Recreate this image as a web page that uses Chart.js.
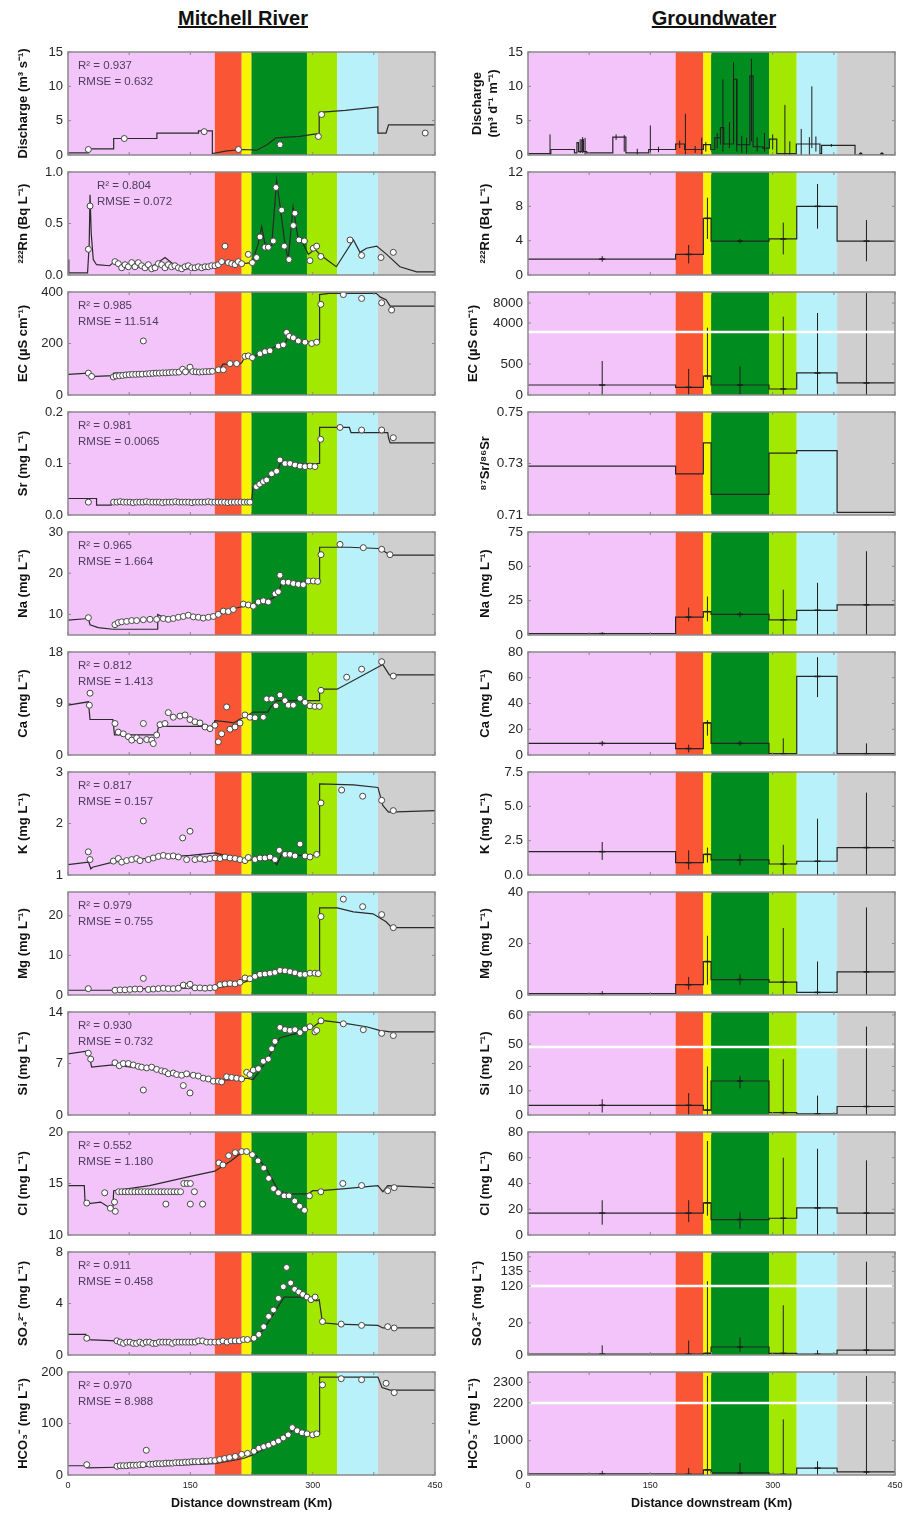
<!DOCTYPE html>
<html>
<head>
<meta charset="utf-8">
<script src="https://cdn.jsdelivr.net/npm/chart.js@4.4.1/dist/chart.umd.min.js"></script>
<style>
  body { margin: 0; background: #fff; width: 906px; height: 1517px; position: relative; overflow: hidden;
         font-family: "Liberation Sans", Arial, sans-serif; }
  .head { position: absolute; top: 7px; font-weight: bold; font-size: 20px; text-decoration: underline;
          color: #111; transform: translateX(-50%); white-space: nowrap; }
  canvas { position: absolute; }
</style>
</head>
<body>
<div class="head" style="left:243px">Mitchell River</div>
<div class="head" style="left:714px">Groundwater</div>
<script>
// ---------- reach zones along the river (km) ----------
const riverZoneEdges = [0, 180, 213, 225, 293, 330, 380, 450];
const gwZoneEdges = [0, 181, 215, 224.5, 295.5, 329.5, 379, 450];
const zoneColors = ['#f2c4f9', '#fa5535', '#f7f500', '#008c1e', '#a3e800', '#b8f1fa', '#cfcfcf'];
const xTickKm = [0, 75, 150, 225, 300, 375, 450];
const xLabelKm = [0, 150, 300, 450];

// ---------- Mitchell River: modelled profile [km, value] and observations [km, value] ----------
const dischargeModel = [[0,0.3],[25,0.3],[25,0.9],[56,0.9],[56,2.4],[109,2.4],[109,3.2],[160,3.2],[160,3.5],[177,3.5],[177,0.2],[195,0.6],[215,0.8],[231,0.7],[244,1.5],[255,2.5],[284,2.7],[300,3.0],[308,3.1],[308,6.2],[340,6.5],[380,7.0],[380,3.2],[390,3.2],[393,4.4],[450,4.4]];
const dischargeObs = [[25,0.8],[69,2.4],[167,3.4],[209,0.8],[260,1.5],[307,2.7],[311,5.9],[438,3.2]];

const rnModel = [[0,0.15],[1,0.02],[24,0.02],[26,0.3],[27,0.78],[28.5,0.4],[31,0.15],[35,0.1],[51,0.09],[57,0.13],[65,0.1],[80,0.08],[100,0.07],[110,0.12],[119,0.17],[130,0.1],[145,0.06],[162,0.07],[180,0.08],[195,0.13],[205,0.1],[215,0.11],[225,0.12],[229,0.2],[233,0.3],[237.5,0.47],[241.5,0.3],[249.7,0.28],[255.8,0.92],[262,0.55],[266,0.3],[270,0.15],[276,0.66],[282,0.36],[288.5,0.3],[294.7,0.2],[302.8,0.25],[309,0.2],[317,0.15],[329,0.08],[350,0.34],[358,0.22],[366,0.26],[378.5,0.28],[390.7,0.2],[407,0.08],[427.5,0.03],[450,0.03]];
const rnObs = [[25,0.25],[27,0.67],[57.6,0.13],[61.7,0.11],[65.8,0.07],[69.9,0.1],[74,0.08],[78.1,0.12],[82.1,0.08],[86.2,0.12],[90.3,0.09],[94.4,0.07],[98.5,0.1],[102.6,0.06],[106.7,0.07],[110.8,0.11],[114.8,0.1],[118.9,0.07],[123,0.1],[127,0.08],[131,0.09],[135.3,0.07],[139.4,0.06],[143.5,0.08],[147.5,0.09],[151.6,0.07],[155.7,0.07],[159.8,0.08],[163.9,0.07],[168,0.08],[172.1,0.08],[176.1,0.09],[180.2,0.09],[184.3,0.1],[188.4,0.13],[192.5,0.28],[196.6,0.12],[200.7,0.11],[204.8,0.1],[208.8,0.13],[212.9,0.11],[221.1,0.2],[226,0.12],[231.3,0.17],[235.4,0.37],[241.5,0.27],[245.6,0.27],[251.8,0.33],[255,0.85],[262,0.63],[265.2,0.28],[271,0.15],[276.3,0.48],[278.3,0.6],[283.2,0.34],[289.8,0.33],[296.7,0.14],[300.8,0.26],[304.9,0.28],[310,0.18],[345.8,0.34],[360,0.19],[383.8,0.17],[398.9,0.22]];

const ecModel = [[0,80],[25,85],[27,71],[55,75],[56,85],[100,88],[150,90],[180,92],[186,100],[190,120],[210,120],[213,125],[217,150],[225,145],[235,160],[246,175],[256,190],[266,195],[268,215],[272,238],[276,222],[284,210],[297,205],[308,205],[308.5,390],[320,395],[378,395],[383,380],[390,370],[395,345],[450,345]];
const ecObs = [[25,85],[29,72],[55.6,70],[59,74],[63,75],[67,76],[71,78],[75,79],[79,80],[83,80],[87,81],[91,81],[92.4,210],[96,82],[100,83],[104,84],[108,85],[112,85],[116,86],[120,86],[124,87],[128,88],[132,88],[136,89],[140.6,100],[144,90],[149.6,108],[153,91],[157,90],[161,89],[165,90],[169,91],[173,91],[177,92],[184.3,98],[190.5,98],[198.6,122],[206.8,122],[217,150],[221.1,152],[226,145],[235.4,160],[241.5,168],[247.7,172],[257.9,190],[264,195],[268.1,243],[271.4,228],[276.3,222],[282.4,210],[290.6,205],[298.8,200],[304.9,205],[310,352],[337.6,390],[360,375],[384.6,358],[396.8,330]];

const srModel = [[0,0.032],[35,0.032],[35,0.019],[53,0.019],[53,0.025],[225,0.025],[227,0.055],[240,0.068],[252,0.08],[258,0.09],[262,0.108],[268,0.1],[308,0.1],[308.5,0.17],[345,0.17],[347,0.16],[392,0.16],[393,0.15],[395,0.14],[450,0.14]];
const srObs = [[25,0.025],[56,0.025],[60,0.025],[64,0.026],[68,0.025],[72,0.025],[76,0.025],[80,0.024],[84,0.025],[88,0.025],[92,0.025],[96,0.026],[100,0.025],[104,0.025],[108,0.025],[112,0.025],[116,0.024],[120,0.025],[124,0.025],[128,0.025],[132,0.026],[136,0.025],[140,0.025],[144,0.025],[148,0.025],[152,0.024],[156,0.025],[160,0.025],[164,0.025],[168,0.025],[172,0.026],[176,0.025],[180,0.025],[184,0.025],[188,0.025],[192,0.025],[196,0.024],[200,0.025],[204,0.025],[208,0.025],[212,0.025],[216,0.025],[220,0.025],[223,0.025],[231,0.055],[235,0.06],[239.5,0.065],[243.6,0.068],[249.7,0.08],[255.8,0.085],[259.9,0.107],[266.1,0.1],[272.2,0.1],[278.3,0.097],[284.5,0.095],[290.6,0.094],[296.7,0.095],[302.8,0.094],[309.8,0.147],[333.5,0.17],[360,0.165],[384.6,0.165],[398.9,0.15]];

const naModel = [[0,8.6],[25,9],[27,7.5],[37,6.8],[55,6.4],[110,6.4],[110,10],[115,9.5],[130,9.2],[150,9.3],[180,9.6],[186,10],[195,11],[212,11.8],[225,12.2],[240,13],[252,14],[258,15],[262,17.9],[280,17.9],[300,17.8],[308,17.9],[308.5,26.3],[345,26.3],[380,26],[386,25.5],[395,24.4],[450,24.4]];
const naObs = [[25,9.2],[57.6,7.5],[61.7,8],[65.8,8.2],[71.9,8.3],[78.1,8.5],[84.2,8.5],[92.4,8.7],[100.5,8.8],[108.7,8.8],[116.9,9],[123,8.8],[129.1,9],[135.3,9.3],[141.4,9.5],[147.5,9.8],[153.7,9.4],[159.8,9.3],[165.9,9.1],[172.1,9.3],[178.2,9.5],[184.3,10],[190.5,10.8],[196.6,10.7],[202.7,11.2],[215,12.5],[221.1,12.3],[227.2,12],[233.4,13],[239.5,13.3],[245.6,13],[253.8,15],[257.9,15.5],[259.9,19.5],[264,17.8],[270.1,17.8],[276.3,17.5],[282.4,17.3],[288.5,17.2],[294.7,18.1],[300.8,18.1],[306.1,18],[310.2,24.5],[333.5,27],[362.1,26.2],[384.6,25.8],[394.8,24.5]];

const caModel = [[0,8.7],[25,9.3],[27,6.2],[55,6.2],[57,3.5],[109,3.5],[111,5],[178,5],[180,6],[195,5.8],[203,5.6],[211,6.3],[215,6.5],[227,7.5],[245,7.5],[248,8.3],[256,9.5],[308,9.5],[308.5,11.5],[330,11.5],[386,15.8],[394,14],[450,14]];
const caObs = [[26.2,8.7],[27,10.8],[57.6,5.5],[61.7,4],[67.8,3.7],[74,3.2],[78.1,2.6],[84.2,3],[88.3,2.5],[92.4,5.5],[96.5,2.7],[102.6,2.6],[104.6,2],[108.7,3.5],[112.8,5.3],[118.9,5.5],[123,7.4],[129.1,6.6],[137.3,6.8],[143.5,7],[149.6,6.2],[155.7,5.8],[161.8,5.6],[168,4.9],[174.1,4.6],[180.2,5.2],[184.3,2.3],[188.4,3.7],[194.5,8.4],[198.6,4.5],[204.8,4.9],[210.9,5.6],[217,7],[223.1,6.6],[229.3,6.5],[239.5,6.6],[243.6,9.8],[249.7,9.8],[255,8.6],[259.9,10.5],[266.1,9.5],[270.1,8.7],[276.3,8.7],[284.5,9.9],[290.6,9.2],[296.7,8.6],[302.8,8.5],[308.2,8.5],[310.2,11.3],[341.7,13.6],[360,15],[384.6,16.3],[398.9,13.8]];

const kModel = [[0,1.2],[25,1.25],[28,1.12],[30,1.15],[55,1.25],[100,1.33],[150,1.38],[180,1.43],[195,1.37],[203,1.35],[219,1.27],[231,1.32],[243,1.33],[252,1.27],[256,1.2],[262,1.4],[280,1.38],[308,1.38],[308.5,2.77],[350,2.75],[380,2.7],[386,2.35],[393,2.22],[450,2.25]];
const kObs = [[24.9,1.45],[27,1.3],[55.6,1.27],[61.7,1.32],[65.8,1.25],[71.9,1.28],[78.1,1.3],[84.2,1.32],[88.3,1.28],[92.4,2.05],[98.5,1.3],[104.6,1.33],[110.8,1.36],[116.9,1.38],[123,1.36],[129.1,1.37],[135.3,1.35],[140.6,1.72],[145.5,1.3],[149.6,1.85],[155.7,1.3],[161.8,1.32],[168,1.3],[174.1,1.32],[180.2,1.33],[186.4,1.32],[192.5,1.35],[198.6,1.33],[204.8,1.32],[210.9,1.3],[217,1.28],[221.1,1.34],[229.3,1.3],[235.4,1.33],[241.5,1.33],[247.7,1.35],[253.8,1.3],[259.1,1.48],[266.1,1.4],[272.2,1.4],[278.3,1.37],[284.5,1.6],[290.6,1.37],[296.7,1.35],[304.9,1.4],[310.2,2.4],[335.5,2.65],[361.3,2.53],[384.6,2.45],[398.9,2.25]];

const mgModel = [[0,1.2],[55,1.2],[56,1.5],[100,1.6],[150,1.7],[180,1.8],[203,2.5],[213,3],[227,4],[243,5],[260,5.5],[272,6],[284,5.3],[308,5],[308.5,22],[330,22],[350,21],[374,20.5],[390,18.5],[397,17],[450,17]];
const mgObs = [[24.9,1.6],[57.6,1.2],[63.8,1.3],[69.9,1.3],[76,1.4],[82.1,1.5],[88.3,1.5],[92.4,4.2],[98.5,1.4],[104.6,1.5],[110.8,1.6],[116.9,1.7],[123,1.6],[129.1,1.6],[135.3,1.7],[141.4,2.5],[147.5,2.3],[149.6,2.7],[155.7,1.8],[161.8,1.8],[168,1.7],[174.1,1.8],[180.2,1.9],[186.4,2.6],[192.5,2.8],[198.6,2.9],[204.8,2.8],[210.9,3.2],[217,4.3],[223.1,4.1],[229.3,4.7],[235.4,5.2],[241.5,5.3],[247.7,5.5],[253.8,5.7],[259.9,6.2],[266.1,6.1],[272.2,5.9],[278.3,5.6],[284.5,5.2],[290.6,5.2],[296.7,5.5],[302.8,5.5],[306.9,5.4],[310.2,19.8],[337.6,24.2],[361.3,22.3],[384.6,20.3],[398.9,17]];

const siModel = [[0,8.3],[25,8.7],[29,6.5],[55,6.8],[100,6.2],[150,5.3],[180,4.7],[203,4.8],[219,5],[227,4.8],[235,6],[244,7.5],[252,9],[260,10.5],[284,11.2],[301,12],[307,12.5],[309,12.9],[338,12.5],[366,12],[382,11.5],[395,11.3],[450,11.3]];
const siObs = [[24.9,8.4],[27.8,7.6],[57.6,7.1],[62.9,6.7],[67.8,7],[74,7],[80.1,6.8],[86.2,6.6],[90.3,6.5],[92.4,3.4],[96.5,6.4],[102.6,6.5],[108.7,6.2],[114.8,6.0],[118.9,5.9],[123,5.6],[129.1,5.7],[133.2,5.5],[139.4,5.4],[141.4,4],[145.5,5.6],[149.6,3],[153.7,5.4],[159.8,5.3],[165.9,5],[172.1,4.9],[178.2,4.6],[184.3,4.6],[188.4,4.5],[194.5,5.2],[200.7,5.1],[206.8,5],[212.9,4.9],[219.1,5.8],[223.1,5.5],[227.2,6.1],[233.4,6.3],[239.5,7.3],[245.6,7.6],[249.7,9],[253.8,10],[259.9,11.9],[266.1,11.6],[272.2,11.5],[278.3,11.6],[284.5,11.2],[290.6,11.7],[296.7,12],[302.8,11.3],[304.9,11.5],[310.2,12.8],[337.6,12.4],[362.1,11.6],[384.6,11.1],[398.9,10.8]];

const clModel = [[0,14.8],[20,14.8],[21,13],[40,13.2],[50,12.7],[55,12.6],[56,14.3],[100,14.8],[150,15.7],[180,16.2],[200,17.2],[213,18],[225,18],[232,17.6],[245,16.2],[258,14.3],[270,14],[295,14],[300,14.3],[310,14.3],[340,14.5],[380,14.8],[386,14.2],[392,14.8],[450,14.6]];
const clObs = [[23,13.1],[45,14.1],[52,12.6],[57,13.2],[58,12.3],[62,14.2],[66,14.2],[70,14.2],[74,14.2],[78,14.2],[82,14.2],[86,14.2],[90,14.2],[94,14.2],[98,14.2],[102,14.2],[106,14.2],[110,14.2],[114,14.2],[118,14.2],[120,13],[122,14.2],[126,14.2],[130,14.2],[134,14.2],[138,14.2],[142,15],[146,15],[150,15],[150,13],[155,14.2],[165,13],[185,17],[190,16.8],[197,17.7],[205,18],[213,18.1],[219,18.1],[226,17.8],[233,17.2],[240,16.5],[246,15.5],[252,14.5],[258,14.1],[265,13.8],[271,13.8],[278,13.3],[284,12.8],[290,12.4],[296,13.8],[310,14.2],[337,15],[360,14.8],[392,14.3],[400,14.6]];

const so4Model = [[0,1.6],[22,1.6],[23,1.2],[60,1.1],[150,1.0],[200,1.0],[225,1.1],[240,2],[250,3],[258,3.8],[265,4.5],[285,4.5],[305,4.2],[308,4.3],[312,2.5],[330,2.4],[380,2.3],[386,2.1],[450,2.1]];
const so4Obs = [[23,1.3],[60,1.1],[64,1.0],[68,0.9],[72,1.0],[76,1.0],[80,0.9],[84,0.9],[88,1.0],[92,0.9],[96,1.0],[100,1.0],[104,0.9],[108,0.9],[112,1.0],[116,1.0],[120,1.0],[124,1.0],[128,0.9],[132,1.0],[136,1.0],[140,1.0],[144,1.0],[148,1.0],[152,1.0],[156,1.0],[160,1.1],[165,1.1],[170,1.0],[175,1.0],[180,1.0],[185,1.0],[190,1.1],[195,1.0],[200,1.1],[205,1.1],[210,1.1],[215,1.2],[220,1.2],[228,1.3],[234,1.6],[240,2.2],[246,3],[252,3.5],[258,4.4],[264,5.3],[268,6.8],[273,5.6],[278,5.1],[283,4.9],[288,4.7],[293,4.5],[298,4.3],[303,4.5],[312,2.6],[335,2.4],[360,2.3],[392,2.2],[400,2.1]];

const hco3Model = [[0,18],[22,18],[23,14],[60,15],[110,17],[150,20],[180,22],[200,28],[215,32],[225,38],[240,50],[255,62],[270,78],[276,88],[285,80],[308,80],[308.5,190],[380,190],[385,170],[395,165],[450,165]];
const hco3Obs = [[23,20],[60,17],[64,18],[68,18],[72,18],[76,19],[80,19],[84,19],[88,20],[92,20],[96,48],[100,21],[104,21],[108,22],[112,22],[116,22],[120,23],[124,23],[128,23],[132,24],[136,24],[140,24],[144,25],[148,25],[152,26],[156,26],[160,26],[165,27],[170,27],[175,28],[180,28],[186,30],[192,32],[198,34],[205,36],[213,40],[220,42],[228,46],[234,52],[240,55],[246,58],[252,62],[258,66],[264,72],[270,78],[275,92],[281,86],[287,82],[293,80],[300,78],[305,80],[312,175],[335,187],[360,185],[390,178],[400,160]];

// ---------- Groundwater: zone means, error bars ----------
const gwBarKm = [91, 197, 220, 260, 313, 355, 415];

const gwQStep = [[0,0.2],[28,0.8],[57,0.3],[60,1.8],[62,0.5],[66,2.2],[68,0.5],[72,0.3],[104,2.6],[120,0.3],[148,0.8],[181,1.6],[192,0.8],[215,1.5],[224,0.8],[229,2.5],[236,4.0],[240,1.6],[252,11],[256,1.5],[272,11.5],[276,1.2],[288,1.0],[296,2.3],[305,0.2],[329,1.6],[358,0.2],[360,1.4],[401,0],[450,0]];
const gwQBars = [[27,0,3.0],[64,0.3,2.3],[67,0.3,2.6],[70,0,2.5],[108,2.2,3.0],[118,0.5,2.9],[134,0,0.9],[150,0.3,4.3],[160,0.4,1.2],[186,1,2.1],[193,0,6.0],[205,0.3,1.3],[213,0,2.5],[218,0.5,1.9],[232,1,3.2],[236,1.5,4],[239,0.5,11],[247,1,4.8],[252,2,13.5],[256,0.5,11],[262,0.3,2.8],[268,0.2,2.5],[274,2,14],[281,0.5,2.6],[290,0.5,3.2],[300,0.8,3],[315,0,7.3],[321,0,2],[335,0,3.8],[345,0,2.6],[348,1,10],[353,0.5,2.7],[372,1.2,1.6]];
const gwQDots = [[408,0.1],[434,0.1]];

const gwRnMean = [1.86, 2.4, 6.6, 3.95, 4.2, 8.0, 3.95];
const gwRnLow  = [1.55, 1.35, 4.2, 3.7, 2.4, 5.4, 1.6];
const gwRnHigh = [2.2, 3.5, 9.0, 4.2, 6.1, 10.6, 6.4];

const gwEcMean = [161, 124, 306, 161, 97, 355, 194];
const gwEcLow  = [0, 0, 250, 0, 0, 0, 0];
const gwEcHigh = [548, 420, 3060, 460, 5260, 6000, 10000];

const gwSrMean = [0.729, 0.726, 0.738, 0.718, 0.734, 0.735, 0.711];

const gwNaMean = [1, 13, 17, 15, 11, 18, 22];
const gwNaLow  = [0, 10, 10, 13, 0, 0, 0];
const gwNaHigh = [2, 20, 28, 17, 33, 38, 61];

const gwCaMean = [9, 5, 25, 9, 1, 61, 1];
const gwCaLow  = [7, 2, 15, 7, 0, 45, 0];
const gwCaHigh = [11, 8, 27, 11, 13, 76, 9];

const gwKMean = [1.7, 0.9, 1.5, 1.1, 0.8, 1.0, 2.0];
const gwKLow  = [1.1, 0.4, 0.9, 0.7, 0, 0, 0];
const gwKHigh = [2.4, 1.8, 2.0, 1.5, 2.2, 4.1, 6.0];

const gwMgMean = [0.5, 4, 13, 6, 5, 1, 9];
const gwMgLow  = [0, 2, 4, 4, 0, 0, 0];
const gwMgHigh = [1.5, 7, 23, 8, 26, 13, 34];

const gwSiMean = [4, 4, 2, 14, 1, 0.5, 3.5];
const gwSiLow  = [1, 0, 0, 11, 0, 0, 0];
const gwSiHigh = [6.5, 9, 20, 16, 23, 8, 56];

const gwClMean = [17, 17, 25, 12, 13, 21, 17];
const gwClLow  = [8, 10, 15, 5, 0, 0, 0];
const gwClHigh = [27, 27, 73, 18, 60, 67, 58];

const gwSo4Mean = [0.5, 0.5, 1, 5, 1, 0.5, 3];
const gwSo4Low  = [0, 0, 0, 2, 0, 0, 0];
const gwSo4High = [6, 9, 125, 11, 31, 3, 145];

const gwHco3Mean = [30, 20, 150, 60, 20, 200, 90];
const gwHco3Low  = [0, 0, 0, 0, 0, 0, 0];
const gwHco3High = [120, 200, 2330, 350, 1620, 400, 2330];

// broken axes: lower segment 0..lowMax fills the bottom `split` of the axis, the rest runs highMin..highMax
const ecBreak   = { lowMax: 1016, highMin: 2200, highMax: 10200, split: 0.612 };
const siBreak   = { lowMax: 28,   highMin: 49,   highMax: 61,    split: 0.66 };
const so4Break  = { lowMax: 43,   highMin: 120,  highMax: 155,   split: 0.67 };
const hco3Break = { lowMax: 2100, highMin: 2200, highMax: 2350,  split: 0.70 };

// ---------- panel definitions ----------
const riverPanels = [
  { title: 'Discharge (m³ s⁻¹)', min: 0, max: 15, tickVals: [0,5,10,15], tickLabels: ['0','5','10','15'], model: dischargeModel, obs: dischargeObs, fit: ['0.937','0.632'] },
  { title: '²²²Rn (Bq L⁻¹)', min: 0, max: 1, tickVals: [0,0.5,1], tickLabels: ['0.0','0.5','1.0'], model: rnModel, obs: rnObs, fit: ['0.804','0.072'], fitDx: 29 },
  { title: 'EC (µS cm⁻¹)', min: 0, max: 400, tickVals: [0,200,400], tickLabels: ['0','200','400'], model: ecModel, obs: ecObs, fit: ['0.985','11.514'] },
  { title: 'Sr (mg L⁻¹)', min: 0, max: 0.2, tickVals: [0,0.1,0.2], tickLabels: ['0.0','0.1','0.2'], model: srModel, obs: srObs, fit: ['0.981','0.0065'] },
  { title: 'Na (mg L⁻¹)', min: 5, max: 30, tickVals: [10,20,30], tickLabels: ['10','20','30'], model: naModel, obs: naObs, fit: ['0.965','1.664'] },
  { title: 'Ca (mg L⁻¹)', min: 0, max: 18, tickVals: [0,9,18], tickLabels: ['0','9','18'], model: caModel, obs: caObs, fit: ['0.812','1.413'] },
  { title: 'K (mg L⁻¹)', min: 1, max: 3, tickVals: [1,2,3], tickLabels: ['1','2','3'], model: kModel, obs: kObs, fit: ['0.817','0.157'] },
  { title: 'Mg (mg L⁻¹)', min: 0, max: 26, tickVals: [0,10,20], tickLabels: ['0','10','20'], model: mgModel, obs: mgObs, fit: ['0.979','0.755'] },
  { title: 'Si (mg L⁻¹)', min: 0, max: 14, tickVals: [0,7,14], tickLabels: ['0','7','14'], model: siModel, obs: siObs, fit: ['0.930','0.732'] },
  { title: 'Cl (mg L⁻¹)', min: 10, max: 20, tickVals: [10,15,20], tickLabels: ['10','15','20'], model: clModel, obs: clObs, fit: ['0.552','1.180'] },
  { title: 'SO₄²⁻ (mg L⁻¹)', min: 0, max: 8, tickVals: [0,4,8], tickLabels: ['0','4','8'], model: so4Model, obs: so4Obs, fit: ['0.911','0.458'] },
  { title: 'HCO₃⁻ (mg L⁻¹)', min: 0, max: 200, tickVals: [0,100,200], tickLabels: ['0','100','200'], model: hco3Model, obs: hco3Obs, fit: ['0.970','8.988'] }
];

const gwPanels = [
  { title: ['Discharge', '(m³ d⁻¹ m⁻¹)'], min: 0, max: 15, tickVals: [0,5,10,15], tickLabels: ['0','5','10','15'], step: gwQStep, bars: gwQBars, dots: gwQDots, pad: 20 },
  { title: '²²²Rn (Bq L⁻¹)', min: 0, max: 12, tickVals: [0,4,8,12], tickLabels: ['0','4','8','12'], mean: gwRnMean, low: gwRnLow, high: gwRnHigh },
  { title: 'EC (µS cm⁻¹)', brk: ecBreak, tickVals: [0,500,4000,8000], tickLabels: ['0','500','4000','8000'], mean: gwEcMean, low: gwEcLow, high: gwEcHigh, pad: 16 },
  { title: '⁸⁷Sr/⁸⁶Sr', min: 0.71, max: 0.75, tickVals: [0.71,0.73,0.75], tickLabels: ['0.71','0.73','0.75'], mean: gwSrMean },
  { title: 'Na (mg L⁻¹)', min: 0, max: 75, tickVals: [0,25,50,75], tickLabels: ['0','25','50','75'], mean: gwNaMean, low: gwNaLow, high: gwNaHigh },
  { title: 'Ca (mg L⁻¹)', min: 0, max: 80, tickVals: [0,20,40,60,80], tickLabels: ['0','20','40','60','80'], mean: gwCaMean, low: gwCaLow, high: gwCaHigh },
  { title: 'K (mg L⁻¹)', min: 0, max: 7.5, tickVals: [0,2.5,5,7.5], tickLabels: ['0.0','2.5','5.0','7.5'], mean: gwKMean, low: gwKLow, high: gwKHigh },
  { title: 'Mg (mg L⁻¹)', min: 0, max: 40, tickVals: [0,20,40], tickLabels: ['0','20','40'], mean: gwMgMean, low: gwMgLow, high: gwMgHigh },
  { title: 'Si (mg L⁻¹)', brk: siBreak, tickVals: [0,10,20,50,60], tickLabels: ['0','10','20','50','60'], mean: gwSiMean, low: gwSiLow, high: gwSiHigh },
  { title: 'Cl (mg L⁻¹)', min: 0, max: 80, tickVals: [0,20,40,60,80], tickLabels: ['0','20','40','60','80'], mean: gwClMean, low: gwClLow, high: gwClHigh },
  { title: 'SO₄²⁻ (mg L⁻¹)', brk: so4Break, tickVals: [0,20,120,135,150], tickLabels: ['0','20','120','135','150'], mean: gwSo4Mean, low: gwSo4Low, high: gwSo4High, pad: 20 },
  { title: 'HCO₃⁻ (mg L⁻¹)', brk: hco3Break, tickVals: [0,1000,2200,2300], tickLabels: ['0','1000','2200','2300'], mean: gwHco3Mean, low: gwHco3Low, high: gwHco3High, pad: 16 }
];

// ---------- layout ----------
const FONT = '"Liberation Sans", Arial, sans-serif';
Chart.defaults.font.family = FONT;
const ROW_TOP0 = 52, ROW_PITCH = 120, PLOT_H = 103, PAD_TOP = 8, PAD_BOTTOM = 6;
const SIDES = {
  river: { left: 0, width: 445, axisW: 68, padRight: 10, titlePad: 16, tickSize: 13, edges: riverZoneEdges },
  gw:    { left: 450, width: 456, axisW: 78, padRight: 11, titlePad: 28, tickSize: 13.5, edges: gwZoneEdges }
};

function axisMap(brk) {
  if (!brk) return v => v;
  return v => v <= brk.lowMax
    ? v / brk.lowMax * brk.split
    : brk.split + (v - brk.highMin) / (brk.highMax - brk.highMin) * (1 - brk.split);
}

const pts = (pairs, map) => pairs.map(([x, y]) => ({ x, y: map(y) }));

// zone backgrounds behind the data
const zonePlugin = {
  id: 'zones',
  beforeDatasetsDraw(chart, args, opts) {
    const { ctx, chartArea: a, scales: { x } } = chart;
    const edges = opts.edges;
    ctx.save();
    for (let i = 0; i < edges.length - 1; i++) {
      const x0 = x.getPixelForValue(edges[i]);
      const x1 = x.getPixelForValue(edges[i + 1]);
      ctx.fillStyle = zoneColors[i];
      ctx.fillRect(x0, a.top, x1 - x0, a.bottom - a.top);
    }
    ctx.restore();
  }
};

// frame, inward tick marks, axis-break line and fit statistics
const framePlugin = {
  id: 'frame',
  afterDatasetsDraw(chart, args, opts) {
    const { ctx, chartArea: a, scales: { x, y } } = chart;
    ctx.save();
    if (opts.breakAt != null) {
      const yb = y.getPixelForValue(opts.breakAt);
      ctx.strokeStyle = '#ffffff';
      ctx.lineWidth = 2.5;
      ctx.beginPath(); ctx.moveTo(a.left - 3, yb); ctx.lineTo(a.right + 6, yb); ctx.stroke();
    }
    ctx.strokeStyle = '#8a8a8a';
    ctx.lineWidth = 1.5;
    ctx.strokeRect(a.left, a.top, a.right - a.left, a.bottom - a.top);
    ctx.lineWidth = 1;
    ctx.beginPath();
    xTickKm.forEach(v => {
      const px = x.getPixelForValue(v);
      ctx.moveTo(px, a.top); ctx.lineTo(px, a.top + 3);
      ctx.moveTo(px, a.bottom); ctx.lineTo(px, a.bottom - 3);
    });
    y.ticks.forEach(t => {
      const py = y.getPixelForValue(t.value);
      ctx.moveTo(a.left, py); ctx.lineTo(a.left + 3, py);
      ctx.moveTo(a.right, py); ctx.lineTo(a.right - 3, py);
    });
    ctx.stroke();
    if (opts.fit) {
      ctx.fillStyle = '#4d3d5a';
      ctx.font = '11.5px ' + FONT;
      ctx.textBaseline = 'alphabetic';
      const fx = a.left + (opts.fitDx || 10);
      ctx.fillText('R² = ' + opts.fit[0], fx, a.top + 17);
      ctx.fillText('RMSE = ' + opts.fit[1], fx, a.top + 33);
    }
    ctx.restore();
  }
};

function makeChart(sideKey, row, spec, datasets) {
  const S = SIDES[sideKey];
  const isBottom = row === 11;
  const top = ROW_TOP0 + row * ROW_PITCH - PAD_TOP;
  const height = isBottom ? 1517 - top : PAD_TOP + PLOT_H + PAD_BOTTOM;
  const canvas = document.createElement('canvas');
  canvas.width = S.width; canvas.height = height;
  canvas.style.left = S.left + 'px'; canvas.style.top = top + 'px';
  canvas.style.width = S.width + 'px'; canvas.style.height = height + 'px';
  document.body.appendChild(canvas);
  const map = axisMap(spec.brk);
  const yMin = spec.brk ? 0 : spec.min, yMax = spec.brk ? 1 : spec.max;
  new Chart(canvas, {
    type: 'line',
    data: { datasets },
    plugins: [zonePlugin, framePlugin],
    options: {
      responsive: false, animation: false, devicePixelRatio: 1,
      layout: { padding: { top: PAD_TOP, right: S.padRight, bottom: isBottom ? 4 : PAD_BOTTOM, left: 0 } },
      plugins: {
        legend: { display: false }, tooltip: { enabled: false },
        zones: { edges: S.edges },
        frame: { fit: spec.fit, fitDx: spec.fitDx, breakAt: spec.brk ? spec.brk.split : null }
      },
      scales: {
        x: {
          type: 'linear', min: 0, max: 450,
          grid: { display: false, drawTicks: false }, border: { display: false },
          afterBuildTicks: s => { s.ticks = xTickKm.map(v => ({ value: v })); },
          ticks: { display: isBottom, autoSkip: false, maxRotation: 0, padding: 5, color: '#222',
                   font: { size: 9 }, callback: v => xLabelKm.includes(v) ? String(v) : '' },
          title: { display: isBottom, text: 'Distance downstream (Km)', color: '#111',
                   font: { size: 12.5, weight: 'bold' }, padding: { top: 0, bottom: 2 } },
          afterFit: s => { s.height = isBottom ? 38 : 0; s.paddingLeft = 0; s.paddingRight = 0; }
        },
        y: {
          type: 'linear', min: yMin, max: yMax,
          grid: { display: false, drawTicks: false }, border: { display: false },
          afterBuildTicks: s => { s.ticks = spec.tickVals.map(v => ({ value: map(v) })); },
          ticks: { autoSkip: false, padding: 5, color: '#262626', font: { size: S.tickSize },
                   callback: (v, i) => spec.tickLabels[i] },
          title: { display: true, text: spec.title, color: '#111', font: { size: 13, weight: 'bold' },
                   padding: { top: spec.pad != null ? spec.pad : S.titlePad, bottom: 0 } },
          afterFit: s => { s.width = S.axisW; s.paddingTop = 0; s.paddingBottom = 0; }
        }
      }
    }
  });
}

// Mitchell River column: observations (open circles) over the modelled profile
riverPanels.forEach((p, row) => {
  const map = axisMap(p.brk);
  makeChart('river', row, p, [
    { data: pts(p.obs, map), showLine: false, pointRadius: 3, pointBorderWidth: 1,
      pointBackgroundColor: '#ffffff', pointBorderColor: '#474747' },
    { data: pts(p.model, map), borderColor: '#2a2a2a', borderWidth: 1.2, pointRadius: 0, tension: 0 }
  ]);
});

// Groundwater column: zone-mean step line with error bars
function zoneSteps(edges, means) {
  const out = means.map((m, i) => [edges[i], m]);
  out.push([edges[edges.length - 1], means[means.length - 1]]);
  return out;
}
function errorBars(bars, map) {
  // each bar: [km, low, mid|null, high]; gaps split the bars
  const data = [];
  bars.forEach(([km, lo, mid, hi]) => {
    data.push({ x: km, y: map(lo) });
    data.push({ x: km, y: mid == null ? map(lo) : map(mid) });
    data.push({ x: km, y: map(hi) });
    data.push({ x: km, y: null });
  });
  return data;
}

gwPanels.forEach((p, row) => {
  const map = axisMap(p.brk);
  const datasets = [];
  let barList = [];
  if (p.bars) barList = p.bars.map(([km, lo, hi]) => [km, lo, null, hi]);
  else if (p.low) barList = gwBarKm.map((km, i) => [km, p.low[i], p.mean[i], p.high[i]]);
  if (barList.length) {
    datasets.push({
      data: errorBars(barList, map), borderColor: '#1e1e1e', borderWidth: 1, spanGaps: false,
      pointStyle: 'line', pointBorderColor: '#1e1e1e', pointBorderWidth: 1.5,
      pointRadius: ctx => (ctx.dataIndex % 4 === 1 && barList[Math.floor(ctx.dataIndex / 4)][2] != null) ? 3 : 0
    });
  }
  if (p.dots) {
    datasets.push({ data: pts(p.dots, map), showLine: false, pointRadius: 1.5,
                    pointBackgroundColor: '#222', pointBorderColor: '#222' });
  }
  // each value holds from its start km up to the next one: horizontal run, then the jump
  const step = p.step ? p.step : zoneSteps(gwZoneEdges, p.mean);
  datasets.push({ data: pts(step, map), stepped: 'before', borderColor: '#262626', borderWidth: 1.2, pointRadius: 0 });
  makeChart('gw', row, p, datasets);
});
</script>
</body>
</html>
